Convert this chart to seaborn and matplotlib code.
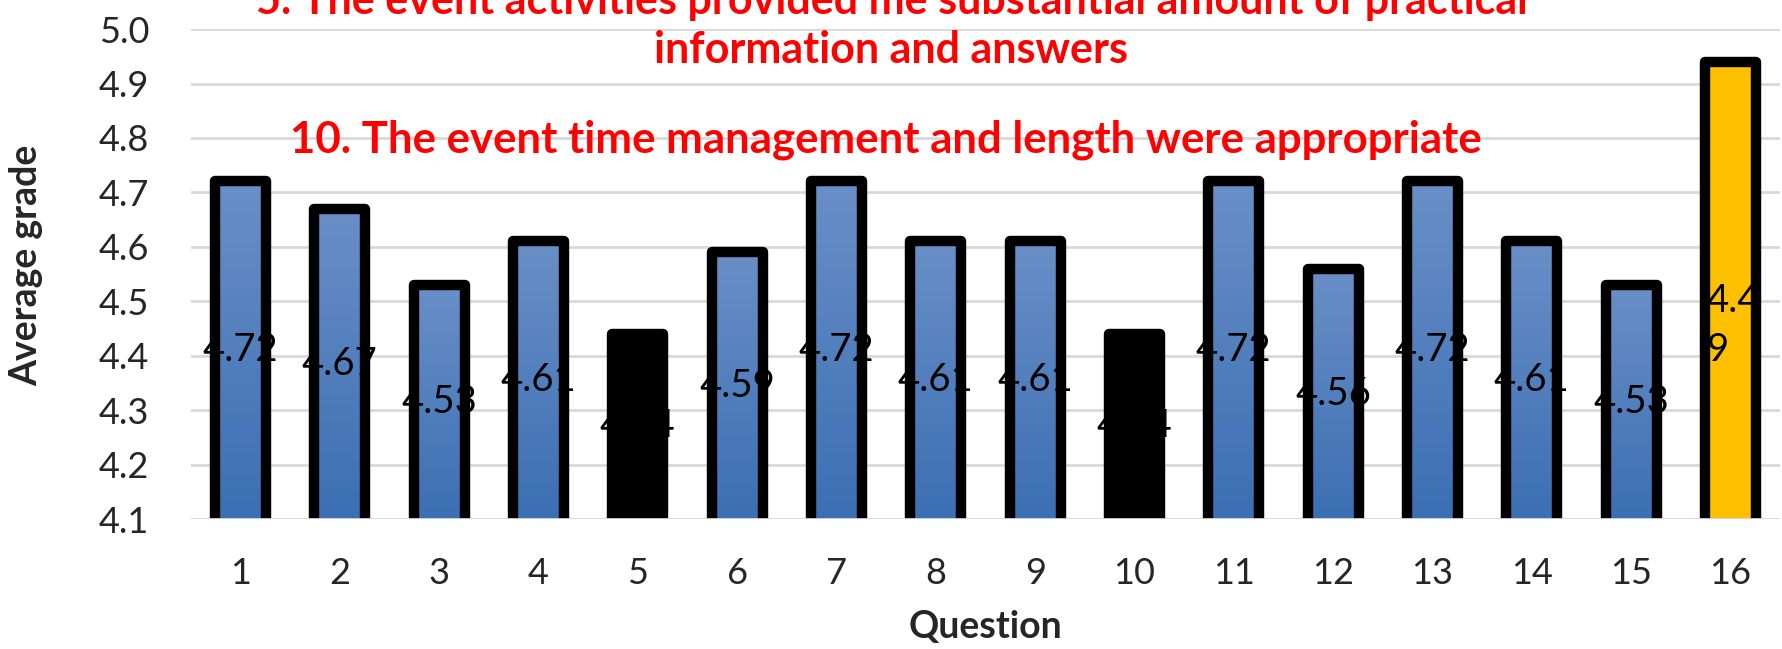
import numpy as np
import pandas as pd
import matplotlib
matplotlib.use("Agg")
import matplotlib.pyplot as plt
import seaborn as sns
from matplotlib.patches import Rectangle
from matplotlib.colors import LinearSegmentedColormap

# ---- data ----
questions = [str(i) for i in range(1, 17)]
grades = [4.72, 4.67, 4.53, 4.61, 4.44, 4.59, 4.72, 4.61,
          4.61, 4.44, 4.72, 4.56, 4.72, 4.61, 4.53, 4.94]
value_labels = ["4.72", "4.67", "4.53", "4.61", "4.44", "4.59", "4.72", "4.61",
                "4.61", "4.44", "4.72", "4.56", "4.72", "4.61", "4.53", "4.4\n9"]
bar_kind = ["blue"] * 4 + ["black"] + ["blue"] * 4 + ["black"] + ["blue"] * 5 + ["gold"]
y_ticks = [4.1, 4.2, 4.3, 4.4, 4.5, 4.6, 4.7, 4.8, 4.9, 5.0]
note_5 = "5. The event activities provided me substantial amount of practical\ninformation and answers"
note_10 = "10. The event time management and length were appropriate"

kind_color = {"blue": "#4a7cbf", "black": "#000000", "gold": "#ffc000"}
palette = {q: kind_color[k] for q, k in zip(questions, bar_kind)}

sns.set_theme(style="white")
plt.rcParams["font.family"] = ["Lato", "DejaVu Sans"]

fig = plt.figure(figsize=(17.83, 6.49), dpi=100)
ax = fig.add_axes([0.107, 0.2003, 0.8914, 0.7549])

df = pd.DataFrame({"Question": questions, "grade": grades})
sns.barplot(data=df, x="Question", y="grade", hue="Question", palette=palette,
            legend=False, width=0.515, saturation=1, linewidth=0, ax=ax, zorder=2)

ax.set_ylim(4.1, 5.0)
ax.set_xlim(-0.5, 15.5)

# gradient for blue bars
cmap = LinearSegmentedColormap.from_list("bl", ["#3b6fb3", "#6a8fc7"])
grad = np.linspace(0, 1, 256).reshape(-1, 1)
patches = list(ax.patches)
for p, kind in zip(patches, bar_kind):
    if kind == "blue":
        x0 = p.get_x()
        w = p.get_width()
        top = p.get_height()
        im = ax.imshow(grad, cmap=cmap, origin="lower", aspect="auto",
                       extent=[x0, x0 + w, 4.1, top], zorder=2.5)
        im.set_clip_path(p)

# value labels (beneath the bar borders)
for i, (v, lab) in enumerate(zip(grades, value_labels)):
    if "\n" in lab:
        ax.text(i - 0.24, 4.455, lab, ha="left", va="center", fontsize=27.5,
                color="black", linespacing=1.45, zorder=3)
    else:
        ax.text(i, (4.1 + v) / 2, lab, ha="center", va="center", fontsize=27.5,
                color="black", zorder=3)

# thick black borders with rounded corners
for p in patches:
    r = Rectangle((p.get_x(), p.get_y()), p.get_width(), p.get_height(),
                  fill=False, edgecolor="black", linewidth=7.5,
                  joinstyle="round", zorder=4)
    ax.add_patch(r)
ax.set_xlim(-0.5, 15.5)
ax.set_ylim(4.1, 5.0)

ax.axhline(4.1, color="#d9d9d9", lw=2, zorder=5)

ax.yaxis.grid(True, color="#d9d9d9", lw=2)
ax.xaxis.grid(False)
ax.set_axisbelow(True)
for s in ax.spines.values():
    s.set_visible(False)

ax.set_yticks(y_ticks)
ax.set_yticklabels([f"{t:.1f}" for t in y_ticks])
ax.tick_params(axis="y", length=0, pad=30, labelsize=26)
ax.tick_params(axis="x", length=0, pad=27, labelsize=26)

ax.set_xlabel("Question", fontsize=27, fontweight="bold")
ax.set_ylabel("Average grade", fontsize=27, fontweight="bold")
ax.xaxis.set_label_coords(0.5, -0.185)
ax.yaxis.set_label_coords(-0.093, 0.518)

fig.text(0.5, 0.961, note_5, ha="center", va="center", fontsize=31,
         fontweight="bold", color="red", linespacing=1.27)
fig.text(0.497, 0.784, note_10, ha="center", va="center", fontsize=31.5,
         fontweight="bold", color="red")

fig.savefig("out.png", dpi=100)
